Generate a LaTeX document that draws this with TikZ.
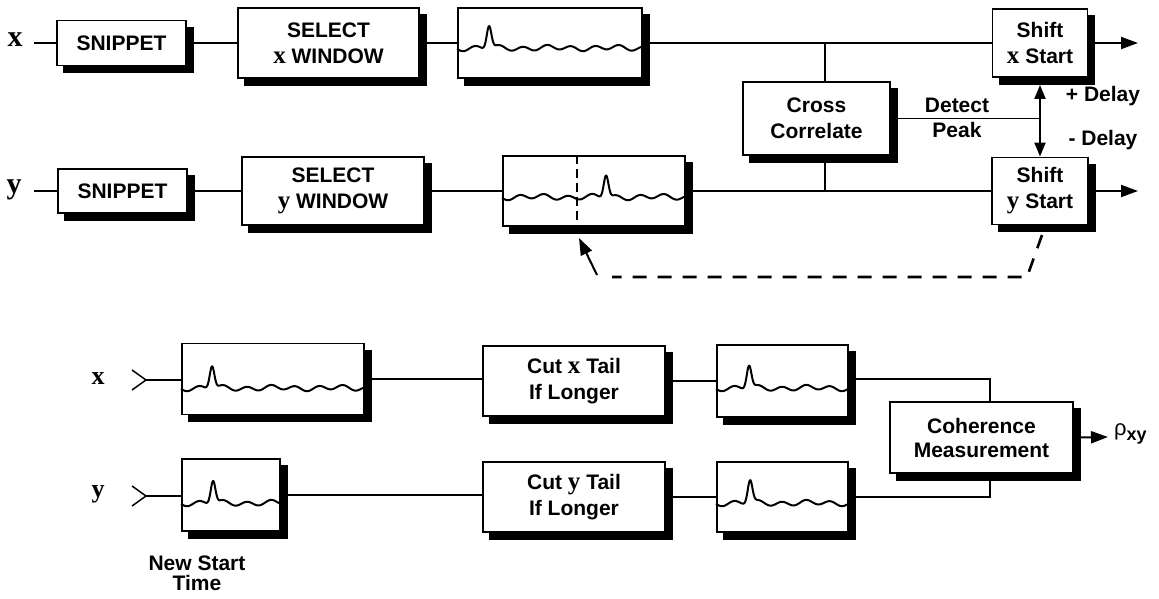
\documentclass[tikz,border=0pt]{standalone}
\usepackage{fontspec}
\setmainfont{Liberation Sans}
\newfontfamily\serifbf{Liberation Serif}
\usetikzlibrary{arrows.meta,calc,backgrounds}
\newcommand{\Xv}{{\serifbf\bfseries\fontsize{25}{25}\selectfont x}}
\newcommand{\Yv}{{\serifbf\bfseries\fontsize{25}{25}\selectfont y}}
% #1 node, #2 width, #3 peak position, #4 baseline offset
\newcommand{\wavein}[4]{%
  \draw[wave, shift={(#1.west)}] plot[domain=0:#2, samples=240]
    (\x, {#4 - 23*exp(-min(((\x-#3)/3.3)^2, 9)) + 2.2*sin(15*\x) + 1.0*sin(6*\x+60)});}
\begin{document}
\begin{tikzpicture}[x=1pt, y=-1pt,
  box/.style={draw, line width=1.9pt, fill=white, inner sep=0pt, align=center,
    font=\fontsize{21}{26}\selectfont\bfseries},
  conn/.style={line width=1.5pt},
  arr/.style={line width=2pt, -{Triangle[length=17pt, width=12pt]}},
  dbl/.style={line width=2pt, {Triangle[length=14pt, width=11pt]}-{Triangle[length=14pt, width=11pt]}},
  txt/.style={font=\fontsize{21}{25}\selectfont\bfseries, align=center, inner sep=0pt},
  wave/.style={line width=2pt, line join=round},
  lbl/.style={font=\fontsize{30}{30}\selectfont\serifbf\bfseries, inner sep=0pt},
  lblb/.style={font=\fontsize{26}{26}\selectfont\serifbf\bfseries, inner sep=0pt},
  fbdash/.style={line width=2.6pt, dash pattern=on 14pt off 11pt},
  vdash/.style={line width=1.6pt, dash pattern=on 9pt off 5pt}]
\useasboundingbox (0,0) rectangle (1159,599);

% ---------- top row (x) ----------
\node[lbl] (lx) at (15,40) {x};
\coordinate (lxe) at (34,43);
\node[box, minimum width=129pt, minimum height=45pt] (sx) at (121.5,43) {SNIPPET};
\node[box, minimum width=181pt, minimum height=70pt] (wx) at (328.5,43) {SELECT\\\Xv{} WINDOW};
\node[box, minimum width=184pt, minimum height=70pt] (px) at (550,43) {};
\node[box, minimum width=95pt, minimum height=68pt] (shx) at (1040,43) {Shift\\\Xv{} Start};
\coordinate (ox) at (1138,43);

% ---------- second row (y) ----------
\node[lbl] (ly) at (14,190) {y};
\coordinate (lye) at (34,191);
\node[box, minimum width=129pt, minimum height=44pt] (sy) at (122.5,191) {SNIPPET};
\node[box, minimum width=182pt, minimum height=68pt] (wy) at (333,191) {SELECT\\\Yv{} WINDOW};
\node[box, minimum width=182pt, minimum height=70pt] (py) at (594,191) {};
\node[box, minimum width=96pt, minimum height=67pt] (shy) at (1040,191) {Shift\\\Yv{} Start};
\coordinate (oy) at (1138,191);

% cross correlate
\node[box, minimum width=147pt, minimum height=73pt] (cc) at (816.5,118.5) {Cross\\Correlate};
\coordinate (t1) at (825,43);
\coordinate (t2) at (825,191);

% ---------- bottom part boxes ----------
\node[box, minimum width=182pt, minimum height=71pt] (bx) at (273,379) {};
\node[box, minimum width=98pt, minimum height=72pt] (by) at (231,495) {};
\node[box, minimum width=182pt, minimum height=70pt] (ctx) at (574,381) {Cut \Xv{} Tail\\If Longer};
\node[box, minimum width=182pt, minimum height=70pt] (cty) at (574,497) {Cut \Yv{} Tail\\If Longer};
\node[box, minimum width=131pt, minimum height=72pt] (qx) at (782.5,381) {};
\node[box, minimum width=131pt, minimum height=70pt] (qy) at (782.5,497) {};
\node[box, minimum width=183pt, minimum height=71pt, font=\fontsize{21}{24}\selectfont\bfseries] (coh) at (981.5,437.5) {Coherence\\Measurement};

% shadows
\begin{scope}[on background layer]
\foreach \n in {sx,wx,px,shx,sy,wy,py,shy,cc,bx,by,ctx,cty,qx,qy,coh}
  \fill ($(\n.north west)+(7,7)$) rectangle ($(\n.south east)+(7,7)$);
\end{scope}

% waves
\wavein{px}{184}{32}{5}
\wavein{py}{182}{104}{6}
\coordinate (dv) at (577,0);
\draw[vdash] (dv |- py.north) -- (dv |- py.south);

% connectors top
\draw[conn] (lxe) -- (sx.west);
\draw[conn] (sx.east) -- (wx.west);
\draw[conn] (wx.east) -- (px.west);
\draw[conn] (px.east) -- (shx.west);
\draw[arr] (shx.east) -- (ox);
\draw[conn] (lye) -- (sy.west);
\draw[conn] (sy.east) -- (wy.west);
\draw[conn] (wy.east) -- (py.west);
\draw[conn] (py.east) -- (shy.west);
\draw[arr] (shy.east) -- (oy);
\draw[conn] (t1) -- (t1 |- cc.north);
\draw[conn] (t2) -- (t2 |- cc.south);
\coordinate (dp) at (cc.east -| shx.south);
\draw[conn] (cc.east) -- (dp);
\draw[dbl] ([yshift=-7pt]shx.south) -- (shy.north);
\node[txt] (dpl) at (957,117.5) {Detect\\Peak};
\node[txt] (pdel) at (1103,96) {+ Delay};
\node[txt] (mdel) at (1103,140) {- Delay};

% feedback
\coordinate (f0) at (1042,235);
\coordinate (f1) at (1027,277);
\coordinate (f2) at (612,277);
\coordinate (f3) at (597,275);
\coordinate (f4) at (579,238);
\draw[fbdash] (f0) -- (f1) -- (f2);
\draw[arr] (f3) -- (f4);

% ---------- bottom part connectors ----------
\node[lblb] (lbx) at (98,379) {x};
\node[lblb] (lby) at (98,494) {y};
\coordinate (chx) at (146,380);
\coordinate (chy) at (146,496);
\draw[conn] ($(chx)+(-14,-10)$) -- (chx) -- ($(chx)+(-14,10)$);
\draw[conn] ($(chy)+(-14,-10)$) -- (chy) -- ($(chy)+(-14,10)$);

\wavein{bx}{182}{31}{9}
\wavein{by}{98}{32}{8}
\wavein{qx}{131}{33}{7}
\wavein{qy}{131}{34}{6}

\draw[conn] (chx) -- (chx -| bx.west);
\draw[conn] (chy) -- (chy -| by.west);
\draw[conn] (bx.east) -- (bx.east -| ctx.west);
\draw[conn] (by.east) -- (by.east -| cty.west);
\draw[conn] (ctx.east) -- (ctx.east -| qx.west);
\draw[conn] (cty.east) -- (cty.east -| qy.west);
\coordinate (cj1) at (990,379);
\coordinate (cj2) at (990,497);
\draw[conn] (qx.east |- cj1) -- (cj1) -- (cj1 |- coh.north);
\draw[conn] (qy.east |- cj2) -- (cj2) -- (cj2 |- coh.south);
\coordinate (orho) at (1108,437);
\draw[arr] (coh.east) -- (orho);
\node[anchor=west, inner sep=0pt, font=\fontsize{22}{22}\selectfont] (rho) at (1114,434) {ρ\raisebox{-5pt}{\fontsize{18}{18}\selectfont\bfseries xy}};

\node[txt, font=\fontsize{21}{20}\selectfont\bfseries] (nst) at (197,573) {New Start\\Time};
\end{tikzpicture}
\end{document}
